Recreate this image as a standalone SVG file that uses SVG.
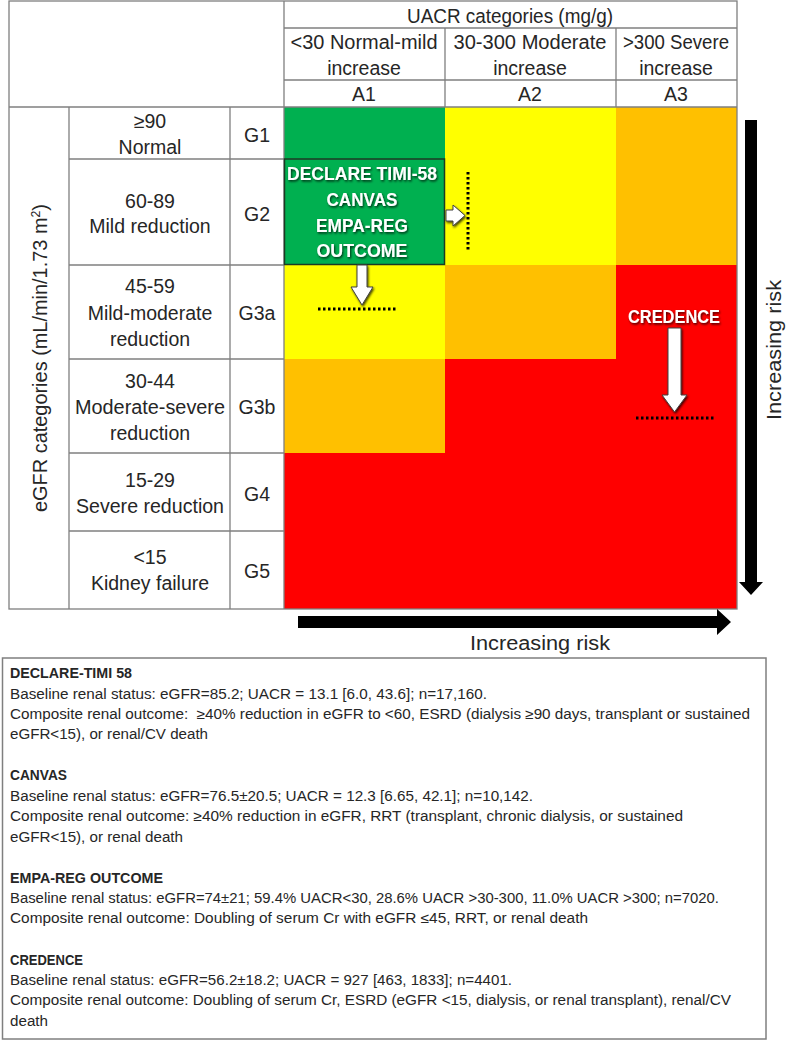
<svg xmlns="http://www.w3.org/2000/svg" width="787" height="1041" viewBox="0 0 787 1041">
<style>
  text { font-family: 'Liberation Sans', Arial, sans-serif; fill: #262626; }
  .h { font-size: 19.5px; text-anchor: middle; }
  .b { font-size: 14px; }
  .bb { font-size: 14px; font-weight: bold; }
  .w { fill: #ffffff; font-weight: bold; text-anchor: middle; filter: url(#sh); }
  .ln { stroke: #7f7f7f; stroke-width: 1.3; fill: none; }
  .dot { stroke: #000; stroke-width: 3; stroke-dasharray: 2.5 2.5; fill: none; }
  .warr { fill: #ffffff; stroke: #404040; stroke-width: 1; filter: url(#sh); }
  .g { fill: #00B050; } .y { fill: #FFFF00; } .o { fill: #FFC000; } .r { fill: #FF0000; }
</style>
<defs>
  <filter id="sh" x="-30%" y="-30%" width="160%" height="160%">
    <feDropShadow dx="1" dy="1.5" stdDeviation="1" flood-color="#000" flood-opacity="0.75"/>
  </filter>
</defs>
<rect width="787" height="1041" fill="#ffffff"/>

<g id="grid-colors">
  <rect class="g" x="284" y="107" width="161" height="52"/>
  <rect class="y" x="284" y="265" width="161" height="94"/>
  <rect class="o" x="284" y="359" width="161" height="94"/>
  <rect class="r" x="284" y="453" width="161" height="156"/>
  <rect class="y" x="445" y="107" width="171" height="158"/>
  <rect class="o" x="445" y="265" width="171" height="94"/>
  <rect class="r" x="445" y="359" width="171" height="250"/>
  <rect class="o" x="616" y="107" width="121" height="158"/>
  <rect class="r" x="616" y="265" width="121" height="344"/>
</g>

<g id="table-lines">
  <rect class="ln" x="9" y="1" width="728" height="608"/>
  <line class="ln" x1="284" y1="1" x2="284" y2="609"/>
  <line class="ln" x1="284" y1="28" x2="737" y2="28"/>
  <line class="ln" x1="284" y1="80" x2="737" y2="80"/>
  <line class="ln" x1="445" y1="28" x2="445" y2="107"/>
  <line class="ln" x1="616" y1="28" x2="616" y2="107"/>
  <line class="ln" x1="9" y1="107" x2="737" y2="107"/>
  <line class="ln" x1="69" y1="107" x2="69" y2="609"/>
  <line class="ln" x1="230" y1="107" x2="230" y2="609"/>
  <line class="ln" x1="69" y1="159" x2="284" y2="159"/>
  <line class="ln" x1="69" y1="265" x2="284" y2="265"/>
  <line class="ln" x1="69" y1="359" x2="284" y2="359"/>
  <line class="ln" x1="69" y1="453" x2="284" y2="453"/>
  <line class="ln" x1="69" y1="531" x2="284" y2="531"/>
</g>

<g id="uacr-header">
  <text class="h" x="510" y="23" textLength="206" lengthAdjust="spacingAndGlyphs">UACR categories (mg/g)</text>
  <text class="h" x="364" y="49" textLength="147" lengthAdjust="spacingAndGlyphs">&lt;30 Normal-mild</text>
  <text class="h" x="364" y="75">increase</text>
  <text class="h" x="364" y="101">A1</text>
  <text class="h" x="530" y="49" textLength="153" lengthAdjust="spacingAndGlyphs">30-300 Moderate</text>
  <text class="h" x="530" y="75">increase</text>
  <text class="h" x="530" y="101">A2</text>
  <text class="h" x="676" y="49" textLength="106" lengthAdjust="spacingAndGlyphs">&gt;300 Severe</text>
  <text class="h" x="676" y="75">increase</text>
  <text class="h" x="676" y="101">A3</text>
</g>

<g id="egfr-axis-label">
  <text class="h" transform="translate(47,358) rotate(-90)" x="0" y="0" textLength="308" lengthAdjust="spacingAndGlyphs">eGFR categories (mL/min/1.73 m<tspan font-size="12" baseline-shift="super">2</tspan>)</text>
</g>

<g id="row-g1">
  <text class="h" x="150" y="128">≥90</text>
  <text class="h" x="150" y="154">Normal</text>
  <text class="h" x="257" y="142">G1</text>
</g>
<g id="row-g2">
  <text class="h" x="150" y="208">60-89</text>
  <text class="h" x="150" y="233">Mild reduction</text>
  <text class="h" x="257" y="221">G2</text>
</g>
<g id="row-g3a">
  <text class="h" x="150" y="293">45-59</text>
  <text class="h" x="150" y="320">Mild-moderate</text>
  <text class="h" x="150" y="346">reduction</text>
  <text class="h" x="257" y="320">G3a</text>
</g>
<g id="row-g3b">
  <text class="h" x="150" y="388">30-44</text>
  <text class="h" x="150" y="414" textLength="150" lengthAdjust="spacingAndGlyphs">Moderate-severe</text>
  <text class="h" x="150" y="440">reduction</text>
  <text class="h" x="257" y="414">G3b</text>
</g>
<g id="row-g4">
  <text class="h" x="150" y="487">15-29</text>
  <text class="h" x="150" y="513" textLength="148" lengthAdjust="spacingAndGlyphs">Severe reduction</text>
  <text class="h" x="257" y="501">G4</text>
</g>
<g id="row-g5">
  <text class="h" x="150" y="564">&lt;15</text>
  <text class="h" x="150" y="590">Kidney failure</text>
  <text class="h" x="257" y="578">G5</text>
</g>

<g id="trials-box">
  <rect x="284.5" y="159" width="160" height="105.5" fill="#00B050" stroke="#1c3a24" stroke-width="1.5"/>
  <text class="w" x="362" y="180" font-size="19" textLength="150" lengthAdjust="spacingAndGlyphs">DECLARE TIMI-58</text>
  <text class="w" x="362" y="206" font-size="19" textLength="71" lengthAdjust="spacingAndGlyphs">CANVAS</text>
  <text class="w" x="362" y="232" font-size="19" textLength="92" lengthAdjust="spacingAndGlyphs">EMPA-REG</text>
  <text class="w" x="362" y="257" font-size="19" textLength="91" lengthAdjust="spacingAndGlyphs">OUTCOME</text>
</g>

<g id="credence-label">
  <text class="w" x="674" y="323" font-size="18" textLength="92" lengthAdjust="spacingAndGlyphs">CREDENCE</text>
</g>

<g id="connectors">
  <polygon class="warr" points="446,210 453,210 453,205 465,215.5 453,226 453,221 446,221"/>
  <line class="dot" x1="468" y1="172" x2="468" y2="252"/>
  <polygon class="warr" points="357,265 367,265 367,287 373,287 362,305 351,287 357,287"/>
  <line class="dot" x1="318" y1="309" x2="397" y2="309"/>
  <polygon class="warr" points="668,328 681,328 681,395 687,395 674.5,412 662,395 668,395"/>
  <line class="dot" x1="636" y1="418" x2="715" y2="418"/>
  <polygon fill="#000" points="745,120 757,120 757,582 763,582 751,595 739,582 745,582"/>
  <polygon fill="#000" points="298,616 717,616 717,609 731,622 717,635 717,628 298,628"/>
</g>

<g id="risk-labels">
  <text class="h" font-size="20" transform="translate(781,350) rotate(-90)" x="0" y="0" textLength="140" lengthAdjust="spacingAndGlyphs">Increasing risk</text>
  <text class="h" font-size="20" x="540" y="650" textLength="140" lengthAdjust="spacingAndGlyphs">Increasing risk</text>
</g>

<g id="notes-box">
  <rect x="2.5" y="658" width="763.5" height="381" fill="#ffffff" stroke="#7f7f7f" stroke-width="1.5"/>
  <text class="bb" x="10" y="678" textLength="122" lengthAdjust="spacingAndGlyphs">DECLARE-TIMI 58</text>
  <text class="b" x="10" y="699" textLength="477" lengthAdjust="spacingAndGlyphs">Baseline renal status: eGFR=85.2; UACR = 13.1 [6.0, 43.6]; n=17,160.</text>
  <text class="b" x="10" y="719" xml:space="preserve" textLength="740" lengthAdjust="spacingAndGlyphs">Composite renal outcome:  ≥40% reduction in eGFR to &lt;60, ESRD (dialysis ≥90 days, transplant or sustained</text>
  <text class="b" x="10" y="739" textLength="198" lengthAdjust="spacingAndGlyphs">eGFR&lt;15), or renal/CV death</text>
  <text class="bb" x="10" y="780" textLength="57" lengthAdjust="spacingAndGlyphs">CANVAS</text>
  <text class="b" x="10" y="801" textLength="523" lengthAdjust="spacingAndGlyphs">Baseline renal status: eGFR=76.5±20.5; UACR = 12.3 [6.65, 42.1]; n=10,142.</text>
  <text class="b" x="10" y="821" textLength="673" lengthAdjust="spacingAndGlyphs">Composite renal outcome: ≥40% reduction in eGFR, RRT (transplant, chronic dialysis, or sustained</text>
  <text class="b" x="10" y="842" textLength="173" lengthAdjust="spacingAndGlyphs">eGFR&lt;15), or renal death</text>
  <text class="bb" x="10" y="883" textLength="153" lengthAdjust="spacingAndGlyphs">EMPA-REG OUTCOME</text>
  <text class="b" x="10" y="903" textLength="709" lengthAdjust="spacingAndGlyphs">Baseline renal status: eGFR=74±21; 59.4% UACR&lt;30, 28.6% UACR &gt;30-300, 11.0% UACR &gt;300; n=7020.</text>
  <text class="b" x="10" y="923" textLength="578" lengthAdjust="spacingAndGlyphs">Composite renal outcome: Doubling of serum Cr with eGFR ≤45, RRT, or renal death</text>
  <text class="bb" x="10" y="965" textLength="73" lengthAdjust="spacingAndGlyphs">CREDENCE</text>
  <text class="b" x="10" y="985" textLength="502" lengthAdjust="spacingAndGlyphs">Baseline renal status: eGFR=56.2±18.2; UACR = 927 [463, 1833]; n=4401.</text>
  <text class="b" x="10" y="1005" textLength="721" lengthAdjust="spacingAndGlyphs">Composite renal outcome: Doubling of serum Cr, ESRD (eGFR &lt;15, dialysis, or renal transplant), renal/CV</text>
  <text class="b" x="10" y="1026" textLength="38" lengthAdjust="spacingAndGlyphs">death</text>
</g>
</svg>
